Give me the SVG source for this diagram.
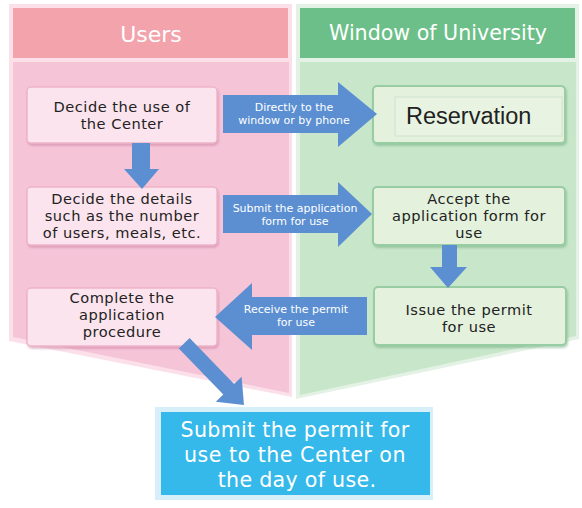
<svg xmlns="http://www.w3.org/2000/svg" width="582" height="508" viewBox="0 0 582 508">
  <defs>
    <filter id="shP" x="-10%" y="-10%" width="120%" height="130%">
      <feDropShadow dx="1" dy="2" stdDeviation="1.2" flood-color="#c77e9d" flood-opacity="0.55"/>
    </filter>
    <filter id="shG" x="-10%" y="-10%" width="120%" height="130%">
      <feDropShadow dx="1" dy="2" stdDeviation="1.2" flood-color="#6fae7f" flood-opacity="0.55"/>
    </filter>
    <style>
      .hdr { font-family: "DejaVu Sans", "Liberation Sans", sans-serif; fill: #ffffff; text-anchor: middle; }
      .nt { font-family: "DejaVu Sans", "Liberation Sans", sans-serif; font-size: 14.6px; letter-spacing: 0.5px; fill: #222222; text-anchor: middle; }
      .at { font-family: "DejaVu Sans", "Liberation Sans", sans-serif; font-size: 11px; fill: #ffffff; text-anchor: middle; }
      .bt { font-family: "DejaVu Sans", "Liberation Sans", sans-serif; font-size: 20.6px; fill: #ffffff; text-anchor: middle; }
      .pn { fill: #fce4ee; stroke: #eeb4c8; stroke-width: 1.5; filter: url(#shP); }
      .gn { fill: #e3f1dd; stroke: #98cda3; stroke-width: 2; filter: url(#shG); }
      .arr { fill: #5b8fd2; }
    </style>
  </defs>
  <rect x="0" y="0" width="582" height="508" fill="#ffffff"/>

  <g id="lane-users">
    <polygon points="9,4 292,4 292,397 9,341" fill="#fbe0ea"/>
    <rect x="13" y="8" width="275" height="50" fill="#f3a3ac"/>
    <polygon points="13,62 289,62 289,393 13,337" fill="#f6c4d7"/>
    <text class="hdr" x="151" y="42" font-size="22">Users</text>
  </g>

  <g id="lane-window">
    <polygon points="296,4 579,4 579,339 296,399" fill="#e3f2e4"/>
    <rect x="300" y="8" width="275" height="50" fill="#6cbf88"/>
    <polygon points="300,62 576,62 576,336 300,395" fill="#c8e6ca"/>
    <text class="hdr" x="438" y="40" font-size="20.6">Window of University</text>
  </g>

  <g id="node-decide-use">
    <rect class="pn" x="27" y="87" width="190" height="56" rx="4"/>
    <text class="nt" x="122" y="112">Decide the use of</text>
    <text class="nt" x="122" y="129">the Center</text>
  </g>

  <g id="node-decide-details">
    <rect class="pn" x="27" y="187" width="190" height="58" rx="4"/>
    <text class="nt" x="122" y="204">Decide the details</text>
    <text class="nt" x="122" y="221">such as the number</text>
    <text class="nt" x="122" y="238">of users, meals, etc.</text>
  </g>

  <g id="node-complete">
    <rect class="pn" x="27" y="288" width="190" height="58" rx="4"/>
    <text class="nt" x="122" y="303">Complete the</text>
    <text class="nt" x="122" y="320">application</text>
    <text class="nt" x="122" y="337">procedure</text>
  </g>

  <g id="node-reservation">
    <rect class="gn" x="373" y="86" width="192" height="57" rx="4"/>
    <rect x="395" y="97" width="167" height="39" fill="#e8f3e2" stroke="#d0e3cc" stroke-width="1"/>
    <text x="406" y="124" font-family="'Liberation Sans', Arial, sans-serif" font-size="23.5" fill="#222222">Reservation</text>
  </g>

  <g id="node-accept">
    <rect class="gn" x="373" y="187" width="192" height="58" rx="4"/>
    <text class="nt" x="469" y="204">Accept the</text>
    <text class="nt" x="469" y="221">application form for</text>
    <text class="nt" x="469" y="238">use</text>
  </g>

  <g id="node-issue">
    <rect class="gn" x="374" y="287" width="192" height="58" rx="4"/>
    <text class="nt" x="469" y="315">Issue the permit</text>
    <text class="nt" x="469" y="332">for use</text>
  </g>

  <g id="node-submit-center">
    <rect x="155" y="407" width="278" height="93" fill="#d6eff9"/>
    <rect x="161" y="412" width="269" height="83" fill="#35b8ea"/>
    <text class="bt" x="295" y="437" letter-spacing="0.3">Submit the permit for</text>
    <text class="bt" x="295" y="462" letter-spacing="0.5">use to the Center on</text>
    <text class="bt" x="297" y="487" letter-spacing="0.3">the day of use.</text>
  </g>

  <g id="connectors">
    <polygon class="arr" points="132,143 150,143 150,169 159,169 142,189 124,169 132,169"/>
    <polygon class="arr" points="442,245 457,245 457,267 467,267 448,288 430,267 442,267"/>
    <polygon class="arr" points="223,95 338,95 338,82 377,114 338,147 338,133 223,133"/>
    <polygon class="arr" points="223,195 338,195 338,182 372,214 338,247 338,233 223,233"/>
    <polygon class="arr" points="367,297 252,297 252,283 215,317 252,350 252,335 367,335"/>
    <polygon class="arr" points="189.6,338 234.1,384 241.6,376.7 244,405 215.8,401.7 223.3,394.4 178.8,348.4"/>
    <text class="at" x="294" y="111">Directly to the</text>
    <text class="at" x="294" y="124">window or by phone</text>
    <text class="at" x="295" y="212">Submit the application</text>
    <text class="at" x="295" y="225">form for use</text>
    <text class="at" x="296" y="313">Receive the permit</text>
    <text class="at" x="296" y="326">for use</text>
  </g>
</svg>
